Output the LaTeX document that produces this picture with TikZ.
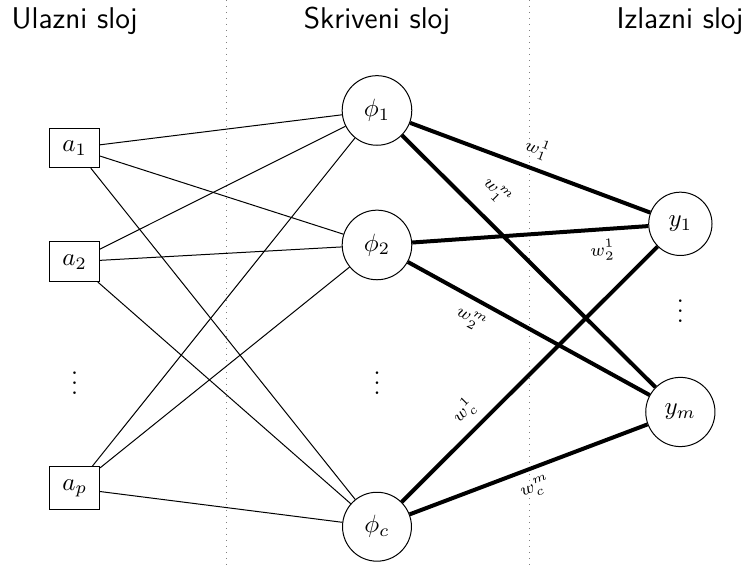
\documentclass[tikz,border=0pt]{standalone}
\begin{document}
\begin{tikzpicture}[
		ulaz/.style={rectangle,draw,inner sep=5pt},
		neuron/.style={circle,draw,inner sep=5pt},
		naslov/.style={font=\large\sffamily,anchor=base},
		tezina/.style={ultra thick},
		oznaka/.style={font=\scriptsize,sloped}]
		\useasboundingbox (0,0) rectangle (10.46,-7.94);
		\draw[gray,dotted] (3.19,0) -- (3.19,-7.94);
		\draw[gray,dotted] (7.44,0) -- (7.44,-7.94);
		
		\node[naslov] (ulazni) at (1.05,-0.4) {Ulazni sloj};
		\node[naslov] (skriveni) at (5.3,-0.4) {Skriveni sloj};
		\node[naslov] (izlazni) at (9.56,-0.4) {Izlazni sloj};
		
		\node[ulaz] (a1) at (1.05,-2.08) {$a_1$};
		\node[ulaz] (a2) at (1.05,-3.68) {$a_2$};
		\node (av) at (1.05,-5.28) {$\vdots$};
		\node[ulaz] (ap) at (1.05,-6.865) {$a_p$};
		
		\node[neuron] (f1) at (5.3,-1.553) {$\phi_1$};
		\node[neuron] (f2) at (5.3,-3.444) {$\phi_2$};
		\node (fv) at (5.3,-5.28) {$\vdots$};
		\node[neuron] (fc) at (5.3,-7.405) {$\phi_c$};
		
		\node[neuron] (y1) at (9.565,-3.147) {$y_1$};
		\node (yv) at (9.565,-4.27) {$\vdots$};
		\node[neuron] (ym) at (9.565,-5.792) {$y_m$};
		
		\foreach \i in {a1,a2,ap}
			\foreach \j in {f1,f2,fc}
				\draw (\i) -- (\j);
		
		\draw[tezina] (f1) -- node[oznaka,above] {$w_1^1$} (y1);
		\draw[tezina] (f1) -- node[oznaka,above=3pt,pos=0.3] {$w_1^m$} (ym);
		\draw[tezina] (f2) -- node[oznaka,below,pos=0.8] {$w_2^1$} (y1);
		\draw[tezina] (f2) -- node[oznaka,below,pos=0.3] {$w_2^m$} (ym);
		\draw[tezina] (fc) -- node[oznaka,above,pos=0.3] {$w_c^1$} (y1);
		\draw[tezina] (fc) -- node[oznaka,below] {$w_c^m$} (ym);
	\end{tikzpicture}
\end{document}
